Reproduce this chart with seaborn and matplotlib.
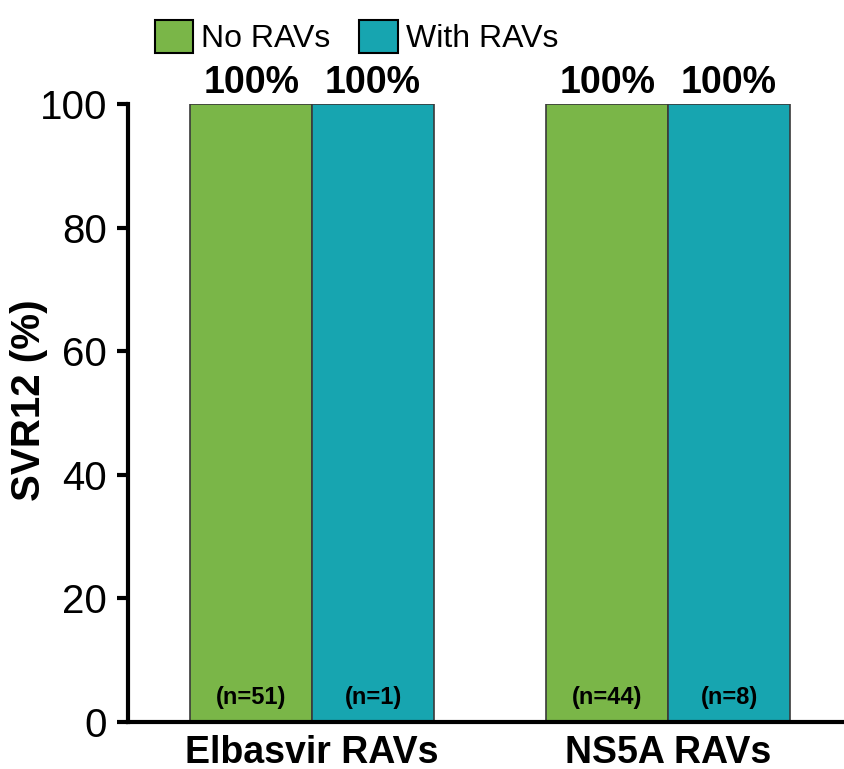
import numpy as np
import pandas as pd
import matplotlib
matplotlib.use('Agg')
import matplotlib.pyplot as plt
import seaborn as sns

# Chart values
groups = ['Elbasvir RAVs', 'NS5A RAVs']
series = ['No RAVs', 'With RAVs']
svr_no = [100, 100]
svr_with = [100, 100]
n_no = ['(n=51)', '(n=44)']
n_with = ['(n=1)', '(n=8)']

colors = ['#7AB648', '#17A5B0']

df = pd.DataFrame({
    'group': groups * 2,
    'series': [series[0]] * 2 + [series[1]] * 2,
    'svr': svr_no + svr_with,
    'n': n_no + n_with,
})

sns.set_style('white')
plt.rcParams['font.family'] = ['Liberation Sans', 'DejaVu Sans']
plt.rcParams['text.color'] = 'black'
plt.rcParams['axes.labelcolor'] = 'black'
plt.rcParams['xtick.color'] = 'black'
plt.rcParams['ytick.color'] = 'black'

fig = plt.figure(figsize=(8.44, 7.69), dpi=100)
ax = fig.add_axes([0.1517, 0.0611, 0.8483, 0.8037])

sns.barplot(data=df, x='group', y='svr', hue='series', hue_order=series,
            palette=colors, width=0.685, gap=0, edgecolor='#3a3a3a',
            linewidth=1.2, saturation=1, ax=ax, legend=True)

ax.set_xlim(-0.517, 1.494)
ax.set_ylim(0, 100)
ax.set_yticks(range(0, 101, 20))

# value and n labels
for cont, s in zip(ax.containers, series):
    sub = df[df['series'] == s]
    for bar, val, nlab in zip(cont, sub['svr'], sub['n']):
        cx = bar.get_x() + bar.get_width() / 2
        ax.text(cx, val + 0.5, f'{val}%', ha='center', va='bottom',
                fontsize=27, fontweight='bold', clip_on=False)
        ax.text(cx, 4.0, nlab, ha='center', va='center',
                fontsize=17, fontweight='bold')

for sp in ['top', 'right']:
    ax.spines[sp].set_visible(False)
for sp in ['left', 'bottom']:
    ax.spines[sp].set_linewidth(3)
    ax.spines[sp].set_color('black')

ax.tick_params(axis='y', direction='out', length=8, width=3, labelsize=29,
               left=True, pad=7)
ax.tick_params(axis='x', length=0, labelsize=27, pad=9)
for lab in ax.get_xticklabels():
    lab.set_fontweight('bold')

ax.set_xlabel('')
ax.set_ylabel('SVR12 (%)', fontsize=29, fontweight='bold')
ax.yaxis.set_label_coords(-0.112, 0.52)

leg = ax.legend(loc='lower left', bbox_to_anchor=(0.02, 1.06), ncol=2,
                frameon=False, fontsize=23, handlelength=1.2, handleheight=1.2,
                handletextpad=0.25, columnspacing=0.9, borderaxespad=0)
for h in leg.legend_handles:
    h.set_edgecolor('black')
    h.set_linewidth(1.5)

fig.savefig('out.png', dpi=100)
